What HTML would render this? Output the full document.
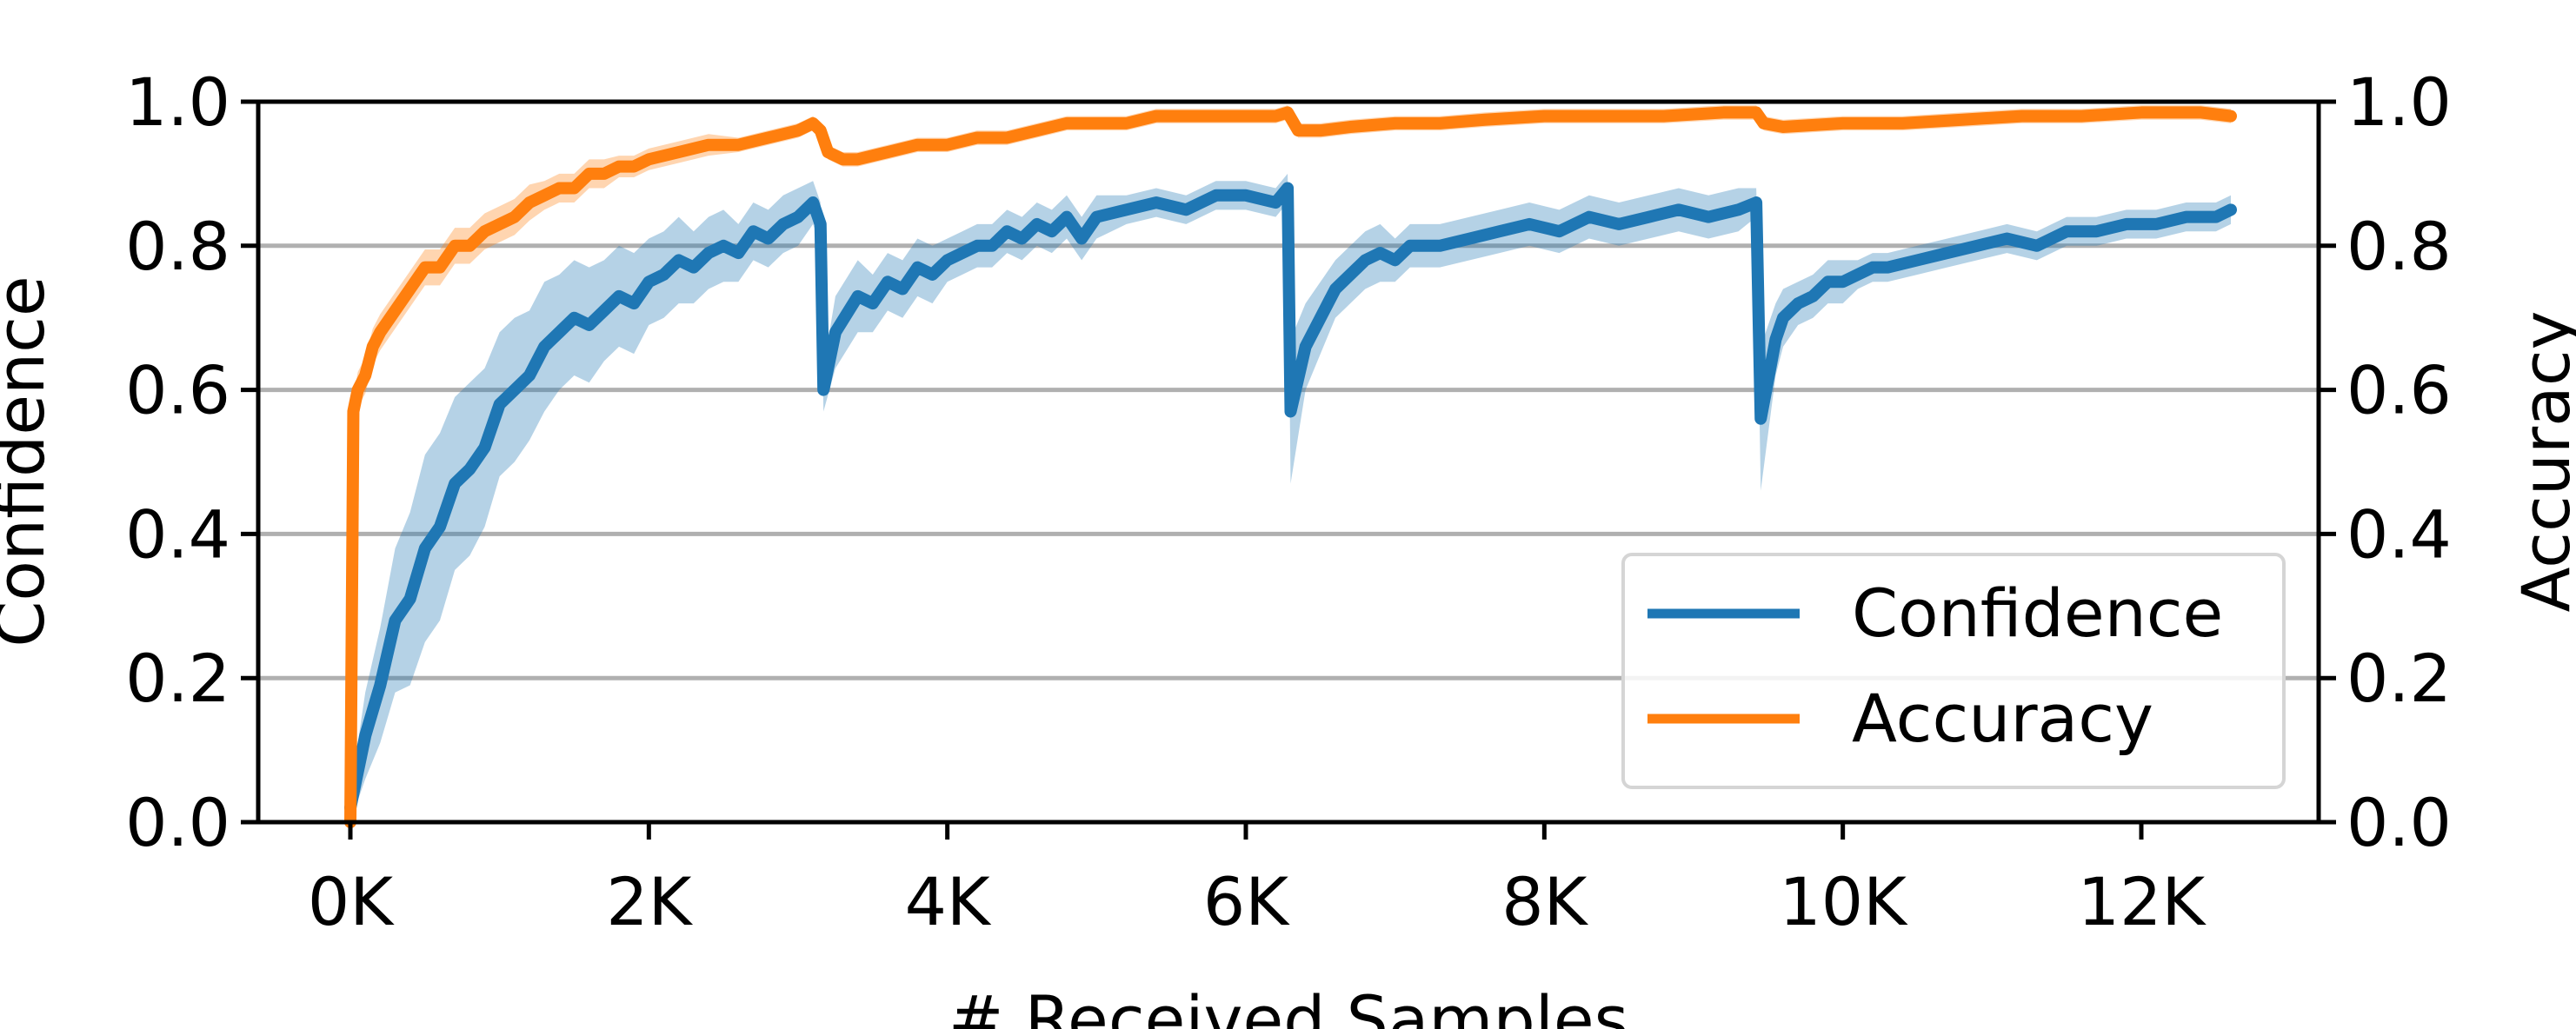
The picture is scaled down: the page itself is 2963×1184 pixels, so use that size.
<!DOCTYPE html>
<html><head><meta charset="utf-8"><style>
html,body{margin:0;padding:0;background:#fff;}
svg{display:block;font-family:"DejaVu Sans","Liberation Sans",sans-serif;}
</style></head><body>
<svg id="chart" width="2963" height="1184" viewBox="0 0 2963 1184" xmlns="http://www.w3.org/2000/svg">
<g id="grid"></g>
<g id="bands"></g>
<g id="series"></g>
<g id="axes"></g>
<text x="0" y="0" transform="translate(50,531) rotate(-90)" font-size="76" text-anchor="middle">Confidence</text>
<text x="0" y="0" transform="translate(2955,531) rotate(-90)" font-size="76" text-anchor="middle">Accuracy</text>
<text x="1482" y="1200" font-size="76" text-anchor="middle"># Received Samples</text>
<g>
<rect x="1867" y="638" width="760" height="268" rx="10" fill="#fff" fill-opacity="0.85" stroke="#d5d5d5" stroke-width="4"/>
<line x1="1895" y1="706" x2="2070" y2="706" stroke="#1f77b4" stroke-width="11"/>
<text x="2130" y="732" font-size="76">Confidence</text>
<line x1="1895" y1="827" x2="2070" y2="827" stroke="#ff7f0e" stroke-width="11"/>
<text x="2130" y="853" font-size="76">Accuracy</text>
</g>
</svg>
<script>
const confX = [0,0.1,0.2,0.3,0.4,0.5,0.6,0.7,0.8,0.9,1.0,1.1,1.2,1.3,1.4,1.5,1.6,1.7,1.8,1.9,2.0,2.1,2.2,2.3,2.4,2.5,2.6,2.7,2.8,2.9,3.0,3.1,3.15,3.17,3.25,3.4,3.5,3.6,3.7,3.8,3.9,4.0,4.1,4.2,4.3,4.4,4.5,4.6,4.7,4.8,4.9,5.0,5.2,5.4,5.6,5.8,6.0,6.2,6.28,6.3,6.4,6.5,6.6,6.7,6.8,6.9,7.0,7.1,7.3,7.5,7.7,7.9,8.1,8.3,8.5,8.7,8.9,9.1,9.3,9.42,9.45,9.55,9.6,9.7,9.8,9.9,10.0,10.1,10.2,10.3,10.5,10.7,10.9,11.1,11.3,11.5,11.7,11.9,12.1,12.3,12.5,12.6];
const confY = [0.02,0.12,0.19,0.28,0.31,0.38,0.41,0.47,0.49,0.52,0.58,0.6,0.62,0.66,0.68,0.7,0.69,0.71,0.73,0.72,0.75,0.76,0.78,0.77,0.79,0.8,0.79,0.82,0.81,0.83,0.84,0.86,0.83,0.6,0.68,0.73,0.72,0.75,0.74,0.77,0.76,0.78,0.79,0.8,0.8,0.82,0.81,0.83,0.82,0.84,0.81,0.84,0.85,0.86,0.85,0.87,0.87,0.86,0.88,0.57,0.66,0.7,0.74,0.76,0.78,0.79,0.78,0.8,0.8,0.81,0.82,0.83,0.82,0.84,0.83,0.84,0.85,0.84,0.85,0.86,0.56,0.67,0.7,0.72,0.73,0.75,0.75,0.76,0.77,0.77,0.78,0.79,0.8,0.81,0.8,0.82,0.82,0.83,0.83,0.84,0.84,0.85];
const confSpread = [0.02,0.06,0.08,0.1,0.12,0.13,0.13,0.12,0.12,0.11,0.1,0.1,0.09,0.09,0.08,0.08,0.08,0.07,0.07,0.07,0.06,0.06,0.06,0.05,0.05,0.05,0.04,0.04,0.04,0.04,0.04,0.03,0.03,0.03,0.05,0.05,0.04,0.04,0.04,0.04,0.04,0.03,0.03,0.03,0.03,0.03,0.03,0.03,0.03,0.03,0.03,0.03,0.02,0.02,0.02,0.02,0.02,0.02,0.02,0.1,0.06,0.05,0.04,0.04,0.04,0.04,0.03,0.03,0.03,0.03,0.03,0.03,0.03,0.03,0.03,0.03,0.03,0.03,0.03,0.02,0.1,0.05,0.04,0.03,0.03,0.03,0.03,0.02,0.02,0.02,0.02,0.02,0.02,0.02,0.02,0.02,0.02,0.02,0.02,0.02,0.02,0.02];
const accX = [0,0.02,0.05,0.1,0.15,0.2,0.3,0.4,0.5,0.6,0.7,0.8,0.9,1.0,1.1,1.2,1.3,1.4,1.5,1.6,1.7,1.8,1.9,2.0,2.2,2.4,2.6,2.8,3.0,3.1,3.15,3.2,3.3,3.4,3.6,3.8,4.0,4.2,4.4,4.6,4.8,5.0,5.2,5.4,5.6,5.8,6.0,6.2,6.28,6.35,6.5,6.7,7.0,7.3,7.6,8.0,8.4,8.8,9.2,9.42,9.47,9.6,10.0,10.4,10.8,11.2,11.6,12.0,12.4,12.6];
const accY = [0.0,0.57,0.6,0.62,0.66,0.68,0.71,0.74,0.77,0.77,0.8,0.8,0.82,0.83,0.84,0.86,0.87,0.88,0.88,0.9,0.9,0.91,0.91,0.92,0.93,0.94,0.94,0.95,0.96,0.97,0.96,0.93,0.92,0.92,0.93,0.94,0.94,0.95,0.95,0.96,0.97,0.97,0.97,0.98,0.98,0.98,0.98,0.98,0.985,0.96,0.96,0.965,0.97,0.97,0.975,0.98,0.98,0.98,0.985,0.985,0.97,0.965,0.97,0.97,0.975,0.98,0.98,0.985,0.985,0.98];
const accSpread = [0,0.02,0.025,0.025,0.025,0.025,0.025,0.025,0.025,0.025,0.025,0.025,0.025,0.025,0.025,0.025,0.02,0.02,0.02,0.02,0.02,0.015,0.015,0.015,0.015,0.015,0.01,0.01,0.01,0.01,0.01,0.01,0.01,0.01,0.01,0.01,0.01,0.01,0.01,0.01,0.01,0.01,0.01,0.01,0.01,0.01,0.01,0.01,0.01,0.01,0.01,0.01,0.01,0.01,0.01,0.01,0.01,0.01,0.01,0.01,0.01,0.01,0.01,0.01,0.01,0.01,0.01,0.01,0.01,0.01];
const xTicks = [0,2,4,6,8,10,12];
const xTickLabels = ["0K","2K","4K","6K","8K","10K","12K"];
const yTicks = [0,0.2,0.4,0.6,0.8,1.0];
const yTickLabels = ["0.0","0.2","0.4","0.6","0.8","1.0"];

const NS="http://www.w3.org/2000/svg";
const L=297,R=2667,T=117,B=946;
const sx=v=>403+(v/12)*(2463-403);
const sy=v=>B-v*(B-T);
function mk(tag,attrs,parent){const e=document.createElementNS(NS,tag);for(const k in attrs)e.setAttribute(k,attrs[k]);parent.appendChild(e);return e;}
const grid=document.getElementById('grid'),bands=document.getElementById('bands'),series=document.getElementById('series'),axes=document.getElementById('axes');
yTicks.forEach((t,i)=>{
  if(t>0&&t<1){const g=mk('line',{x1:L,x2:R,y1:sy(t),y2:sy(t),stroke:'#b0b0b0','stroke-width':5},grid);
  
  }
});
function band(xs,ys,sp,color,name){
  let d='';xs.forEach((x,i)=>{d+=(i?'L':'M')+sx(x)+','+sy(Math.min(1,ys[i]+sp[i]));});
  for(let i=xs.length-1;i>=0;i--)d+='L'+sx(xs[i])+','+sy(Math.max(0,ys[i]-sp[i]));
  const p=mk('path',{d:d+'Z',fill:color,'fill-opacity':0.33,stroke:'none'},bands);
  
  
}
function line(xs,ys,color,name){
  const p=mk('path',{d:xs.map((x,i)=>(i?'L':'M')+sx(x)+','+sy(ys[i])).join(''),fill:'none',stroke:color,'stroke-width':14,'stroke-linejoin':'round','stroke-linecap':'round'},series);
  
  
}
band(confX,confY,confSpread,'#1f77b4','confidence-band');
band(accX,accY,accSpread,'#ff7f0e','accuracy-band');
line(confX,confY,'#1f77b4','confidence-line');
line(accX,accY,'#ff7f0e','accuracy-line');
mk('rect',{x:L,y:T,width:R-L,height:B-T,fill:'none',stroke:'#000','stroke-width':5},axes);
yTicks.forEach((t,i)=>{
  mk('line',{x1:L-20,x2:L,y1:sy(t),y2:sy(t),stroke:'#000','stroke-width':5},axes);
  mk('line',{x1:R,x2:R+20,y1:sy(t),y2:sy(t),stroke:'#000','stroke-width':5},axes);
  const a=mk('text',{x:L-32,y:sy(t)+27,'font-size':76,'text-anchor':'end'},axes);a.textContent=yTickLabels[i];
  
  
  const b=mk('text',{x:R+32,y:sy(t)+27,'font-size':76},axes);b.textContent=yTickLabels[i];
  
  
});
xTicks.forEach((t,i)=>{
  mk('line',{x1:sx(t),x2:sx(t),y1:B,y2:B+20,stroke:'#000','stroke-width':5},axes);
  const a=mk('text',{x:sx(t),y:B+118,'font-size':76,'text-anchor':'middle'},axes);a.textContent=xTickLabels[i];
  
  
});
</script>
</body></html>
